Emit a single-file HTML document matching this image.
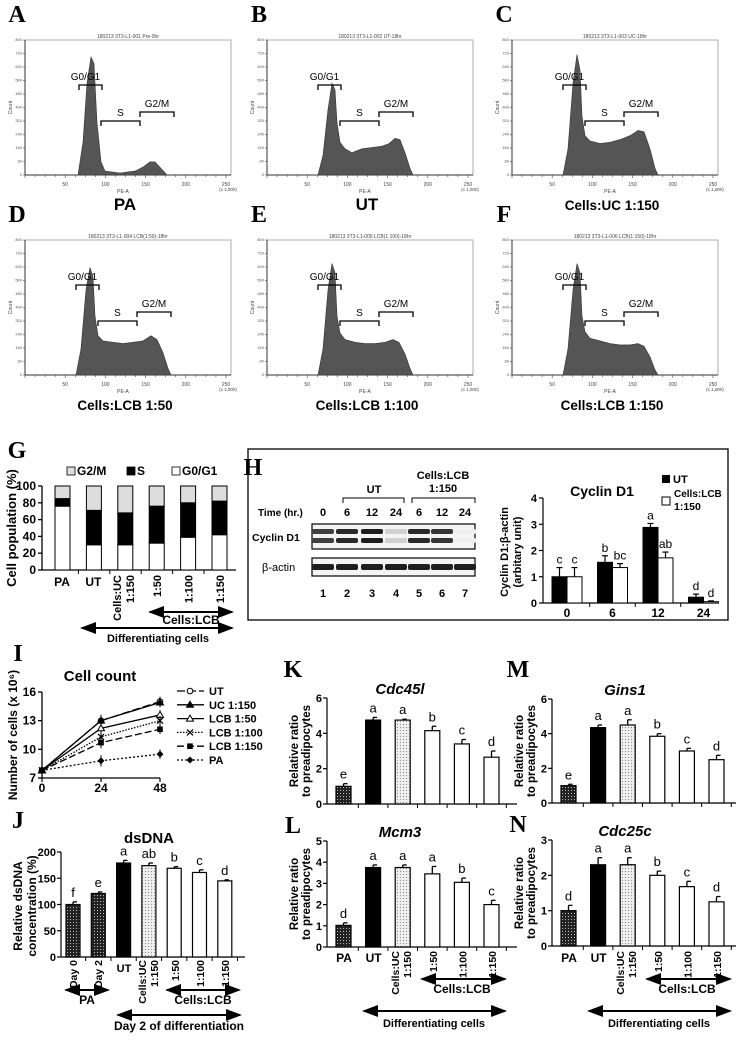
<!DOCTYPE html>
<html><head><meta charset="utf-8"><style>
body{margin:0;background:#fff;width:736px;height:1040px;overflow:hidden}
svg{display:block;font-family:"Liberation Sans",sans-serif}
</style></head><body>
<svg id="fig" width="736" height="1040" viewBox="0 0 736 1040">
<defs>
<pattern id="dk" width="3" height="3" patternUnits="userSpaceOnUse"><rect width="3" height="3" fill="#222"/><rect x="1" y="1" width="1" height="1" fill="#bbb"/></pattern>
<pattern id="lt" width="3" height="3" patternUnits="userSpaceOnUse"><rect width="3" height="3" fill="#eee"/><rect x="1" y="1" width="1" height="1" fill="#888"/></pattern>
<marker id="ah" markerWidth="8" markerHeight="6" refX="7" refY="3" orient="auto-start-reverse"><path d="M0,0L8,3L0,6z" fill="#000"/></marker>
</defs>
</svg>
<script>
// ---- Flow histogram data (x offset from axis, relative height) ----
const flowNames=['A','B','C','D','E','F'];
const flowLabels=[['PA'],['UT'],['Cells:UC 1:150'],['Cells:LCB 1:50'],['Cells:LCB 1:100'],['Cells:LCB 1:150']];
const flowTitles=['180213 3T3-L1-001 Pre-0hr','180213 3T3-L1-002 UT-18hr','180213 3T3-L1-003 UC-18hr','180213 3T3-L1-004 LCB(1:50)-18hr','180213 3T3-L1-005 LCB(1:100)-18hr','180213 3T3-L1-006 LCB(1:150)-18hr'];
const flowA=[[53,0],[58,0.25],[62,0.7],[66,0.9],[69,0.85],[72,0.4],[76,0.1],[80,0.03],[95,0.015],[110,0.03],[118,0.06],[125,0.1],[130,0.1],[136,0.05],[142,0]];
const flowB=[[51,0],[56,0.15],[61,0.5],[65,0.7],[68,0.65],[70,0.4],[73,0.25],[78,0.2],[85,0.17],[95,0.2],[105,0.21],[115,0.22],[122,0.24],[128,0.28],[133,0.27],[138,0.17],[143,0.05],[146,0]];
const flowC=[[51,0],[56,0.2],[61,0.7],[65,0.92],[68,0.8],[70,0.45],[73,0.3],[78,0.26],[88,0.24],[98,0.25],[108,0.27],[118,0.3],[126,0.34],[132,0.33],[138,0.2],[143,0.05],[146,0]];
const flowD=[[51,0],[56,0.2],[61,0.65],[65,0.82],[68,0.75],[70,0.45],[73,0.3],[78,0.26],[88,0.25],[98,0.24],[108,0.25],[118,0.26],[126,0.3],[132,0.27],[138,0.17],[143,0.05],[146,0]];
const flowE=[[51,0],[56,0.2],[61,0.65],[65,0.85],[68,0.78],[70,0.45],[73,0.32],[78,0.27],[88,0.25],[98,0.24],[108,0.24],[118,0.25],[126,0.27],[132,0.25],[138,0.16],[143,0.05],[146,0]];
const flowF=[[51,0],[56,0.2],[61,0.65],[65,0.85],[68,0.78],[70,0.45],[73,0.33],[78,0.28],[88,0.26],[98,0.24],[108,0.23],[118,0.23],[126,0.24],[132,0.22],[138,0.14],[143,0.04],[146,0]];
const flowData=[flowA,flowB,flowC,flowD,flowE,flowF];

// ---- G data ----
const gCats=['PA','UT','Cells:UC 1:150','1:50','1:100','1:150'];
const gG1=[76,30,30,32,39,42];
const gS=[9,41,38,44,41,40];
const gG2=[15,29,32,24,20,18];
// ---- H data ----
const hCats=['0','6','12','24'];
const hUT=[1.0,1.55,2.88,0.22];
const hUTerr=[0.35,0.25,0.15,0.12];
const hLCB=[1.0,1.35,1.72,0.05];
const hLCBerr=[0.35,0.15,0.22,0.03];
const hUTlet=['c','b','a','d'];
const hLCBlet=['c','bc','ab','d'];
const blotCyc=[0.85,0.95,1.0,0.2,0.95,0.9,0.07];
const blotAct=[1,1,1,1,1,1,1];
// ---- I data ----
const iTimes=[0,24,48];
const iUT=[7.8,13.0,15.0];
const iUC=[7.8,13.0,14.9];
const iL50=[7.8,12.2,13.6];
const iL100=[7.8,11.3,13.0];
const iL150=[7.8,10.7,12.1];
const iPA=[7.8,8.8,9.5];
const iErr=[0.2,0.6,0.5];
// ---- J data ----
const jCats=['Day 0','Day 2','UT','Cells:UC 1:150','1:50','1:100','1:150'];
const jVals=[100,121,179,174,169,161,145];
const jErrs=[5,3,5,5,3,5,2];
const jLet=['f','e','a','ab','b','c','d'];
// ---- K-N data ----
const geneCats=['PA','UT','Cells:UC 1:150','1:50','1:100','1:150'];
const kVals=[1.0,4.75,4.75,4.15,3.4,2.65];
const kErrs=[0.15,0.15,0.05,0.25,0.25,0.35];
const kLet=['e','a','a','b','c','d'];
const lVals=[1.02,3.75,3.75,3.45,3.05,2.0];
const lErrs=[0.12,0.12,0.12,0.35,0.2,0.2];
const lLet=['d','a','a','a','b','c'];
const mVals=[1.0,4.35,4.5,3.85,3.0,2.5];
const mErrs=[0.08,0.15,0.3,0.15,0.15,0.25];
const mLet=['e','a','a','b','c','d'];
const nVals=[1.0,2.3,2.3,2.0,1.68,1.25];
const nErrs=[0.15,0.2,0.2,0.12,0.15,0.15];
const nLet=['d','a','a','b','c','d'];

const S=document.getElementById('fig');
const NS='http://www.w3.org/2000/svg';
function mk(tag,at,txt,par){const e=document.createElementNS(NS,tag);for(const k in at)e.setAttribute(k,at[k]);if(txt!==undefined&&txt!==null)e.textContent=txt;(par||S).appendChild(e);return e;}
function T(x,y,s,size,opt){opt=opt||{};const a={x:x,y:y,'font-size':size,'text-anchor':opt.a||'middle'};if(opt.b!==false)a['font-weight']='bold';if(opt.i)a['font-style']='italic';if(opt.rot)a.transform='rotate(-90 '+x+' '+y+')';if(opt.fam)a['font-family']=opt.fam;if(opt.fill)a.fill=opt.fill;const e=mk('text',a,s);return e;}
function R(x,y,s,size){return T(x,y,s,size,{rot:true,a:'end'});}
function L(x1,y1,x2,y2,w,extra){const a={x1:x1,y1:y1,x2:x2,y2:y2,stroke:extra&&extra.c||'#000','stroke-width':w||1};if(extra&&extra.d)a['stroke-dasharray']=extra.d;return mk('line',a);}
function arrow(x1,x2,y,name){const e=mk('line',{x1:x1,y1:y,x2:x2,y2:y,stroke:'#000','stroke-width':2,'marker-start':'url(#ah)','marker-end':'url(#ah)'});

}
function panelLabel(ch,x,y){const e=T(x,y,ch,24,{fam:'"Liberation Serif",serif'});

}

// ---- Flow panels ----
const flowLeft=[25,267,512];
const flowTop=[40,240];
for(let p=0;p<6;p++){
  const ax=flowLeft[p%3], top=flowTop[Math.floor(p/3)], bot=top+135, w=206, hh=131;
  panelLabel(flowNames[p],ax-8,top-18);
  const g=mk('g',{});
  
  
  mk('rect',{x:ax,y:top,width:w,height:bot-top,fill:'none',stroke:'#999','stroke-width':0.8},null,g);
  mk('line',{x1:ax,y1:top,x2:ax,y2:bot,stroke:'#333','stroke-width':1},null,g);
  mk('line',{x1:ax,y1:bot,x2:ax+w,y2:bot,stroke:'#333','stroke-width':1},null,g);
  mk('text',{x:ax+w/2,y:top-2,'font-size':5,'text-anchor':'middle',fill:'#444'},flowTitles[p],g);
  for(let k=0;k<=20;k++){const tx=ax+k*w/20.5;mk('line',{x1:tx,y1:bot,x2:tx,y2:bot+(k%4===0?3:2),stroke:'#444','stroke-width':0.6},null,g);}
  for(let k=0;k<=10;k++){const ty=bot-k*(bot-top)/10;mk('line',{x1:ax-2,y1:ty,x2:ax,y2:ty,stroke:'#444','stroke-width':0.6},null,g);
    mk('text',{x:ax-3,y:ty+1,'font-size':4,'text-anchor':'end',fill:'#555'},String(k*80),g);}
  ['50','100','150','200','250'].forEach((s,i)=>{mk('text',{x:ax+(i+1)*40.2,y:bot+11,'font-size':5,'text-anchor':'middle',fill:'#444'},s,g);});
  mk('text',{x:ax+w-3,y:bot+16,'font-size':4.5,'text-anchor':'middle',fill:'#444'},'(x 1,000)',g);
  mk('text',{x:ax+w/2-5,y:bot+18,'font-size':5,'text-anchor':'middle',fill:'#444'},'PE-A',g);
  mk('text',{x:ax-13,y:top+(bot-top)/2,'font-size':5,'text-anchor':'middle',fill:'#444',transform:'rotate(-90 '+(ax-13)+' '+(top+(bot-top)/2)+')'},'Count',g);
  let d='M'+(ax+flowData[p][0][0])+','+bot;
  flowData[p].forEach(pt=>{d+=' L'+(ax+pt[0])+','+(bot-pt[1]*hh).toFixed(1);});
  d+=' Z';
  const hist=mk('path',{d:d,fill:'#555',stroke:'#333','stroke-width':0.6},null,g);
  
  
  const o=p===0?3:0;
  const br=[[51+o,74+o,bot-90,'G0/G1'],[73+o,112+o,bot-54,'S'],[112+o,146+o,bot-63,'G2/M']];
  br.forEach(b=>{mk('path',{d:'M'+(ax+b[0])+','+(b[2]+5)+' V'+b[2]+' H'+(ax+b[1])+' V'+(b[2]+5),fill:'none',stroke:'#000','stroke-width':1.3},null,g);
    mk('text',{x:ax+(b[0]+b[1])/2-(b[3]==='G0/G1'?5:0),y:b[2]-5,'font-size':10,'text-anchor':'middle'},b[3],g);});
  const lb=T(ax+w/2-3,bot+35,flowLabels[p][0],p===0||p===1?17:13.5);
  
  
}

// ---- Generic bar chart ----
function bars(cfg){
  const yS=v=>cfg.y0-(v/cfg.max)*(cfg.y0-cfg.yTop);
  const xS=i=>cfg.x0+i*cfg.sp;
  L(cfg.ax,cfg.yTop,cfg.ax,cfg.y0,1.2);
  L(cfg.ax,cfg.y0,cfg.xEnd,cfg.y0,1.2);
  cfg.ticks.forEach(t=>{L(cfg.ax-4,yS(t),cfg.ax,yS(t),1.2);T(cfg.ax-5,yS(t)+4,String(t),cfg.fs||11,{a:'end'});});
  for(let i=1;i<=cfg.vals.length;i++){const tx=xS(i)-(cfg.sp-cfg.w)/2;if(tx<cfg.xEnd)L(tx,cfg.y0,tx,cfg.y0+4,1);}
  cfg.vals.forEach((v,i)=>{
    const x=xS(i),y=yS(v);
    L(x+cfg.w/2,yS(v+cfg.errs[i]),x+cfg.w/2,y,1.3);
    L(x+cfg.w/2,yS(v+cfg.errs[i]),x+cfg.w/2+4,yS(v+cfg.errs[i]),1.3);
    const r=mk('rect',{x:x,y:y,width:cfg.w,height:cfg.y0-y,fill:cfg.fills[i],stroke:'#000','stroke-width':1.2});
    
    
    const t=T(x+cfg.w/2,yS(v+cfg.errs[i])-5,cfg.lets[i],13,{b:false});
    
    
  });
  return {xS:xS,yS:yS};
}
const geneFills=['url(#dk)','#000','url(#lt)','#fff','#fff','#fff'];

// ---- G stacked ----
panelLabel('G',17,458);
(function(){
  const ax=42,y0=570,yTop=486,x0=55,sp=31.4,w=15;
  const yS=v=>y0-v/100*(y0-yTop);
  L(ax,yTop,ax,y0,1.3);L(ax,y0,236,y0,1.3);
  [0,20,40,60,80,100].forEach(t=>{L(ax-4,yS(t),ax,yS(t),1.3);T(ax-6,yS(t)+4,String(t),12,{a:'end'});});
  for(let i=1;i<6;i++)L(x0+i*sp-8,y0,x0+i*sp-8,y0+4,1);
  gCats.forEach((c,i)=>{const x=x0+i*sp;
    let r=mk('rect',{x:x,y:yS(gG1[i]),width:w,height:y0-yS(gG1[i]),fill:'#fff',stroke:'#000'});
    
    
    r=mk('rect',{x:x,y:yS(gG1[i]+gS[i]),width:w,height:yS(gG1[i])-yS(gG1[i]+gS[i]),fill:'#000',stroke:'#000'});
    
    
    r=mk('rect',{x:x,y:yS(gG1[i]+gS[i]+gG2[i]),width:w,height:yS(gG1[i]+gS[i])-yS(gG1[i]+gS[i]+gG2[i]),fill:'#ddd',stroke:'#000'});
    
    
  });
  T(16,528,'Cell population (%)',13,{rot:true});
  T(x0+7,586,'PA',12);T(x0+sp+7,586,'UT',12);
  R(x0+2*sp+3,575,'Cells:UC',11);R(x0+2*sp+16,575,'1:150',11);
  R(x0+3*sp+12,575,'1:50',11);R(x0+4*sp+12,575,'1:100',11);R(x0+5*sp+12,575,'1:150',11);
  arrow(150,232,612,'g-lcb-arrow');T(191,624,'Cells:LCB',12);
  arrow(82,232,628,'g-diff-arrow');T(158,642,'Differentiating cells',11);
  const lg=[[67,'#ddd','G2/M'],[127,'#000','S'],[172,'#fff','G0/G1']];
  lg.forEach(l=>{const r=mk('rect',{x:l[0],y:467,width:8,height:8,fill:l[1],stroke:'#000','stroke-width':0.8});
    
    
    T(l[0]+10,475,l[2],12,{a:'start'});});
})();

// ---- H ----
(function(){
  const box=mk('rect',{x:248,y:449,width:480,height:171,fill:'none',stroke:'#000','stroke-width':1.3});
  
  
  panelLabel('H',253,475);
  const lanes=[323,347,372,396,419,442,465];
  T(258,516,'Time (hr.)',10,{a:'start'});
  ['0','6','12','24','6','12','24'].forEach((s,i)=>T(lanes[i],516,s,11));
  mk('path',{d:'M343,503 V498 H404 V503',fill:'none',stroke:'#000'});T(374,493,'UT',11);
  mk('path',{d:'M412,503 V498 H475 V503',fill:'none',stroke:'#000'});T(443,479,'Cells:LCB',11);T(443,492,'1:150',11);
  T(252,541,'Cyclin D1',10.5,{a:'start'});T(262,571,'β-actin',11,{a:'start',b:false});
  mk('rect',{x:312,y:524,width:163,height:25,fill:'#f4f4f4',stroke:'#000','stroke-width':1.2});
  mk('rect',{x:312,y:558,width:163,height:18,fill:'#f4f4f4',stroke:'#000','stroke-width':1.2});
  lanes.forEach((x,i)=>{
    const c=Math.round(255-blotCyc[i]*225);
    const col='rgb('+c+','+c+','+c+')';
    let b=mk('rect',{x:x-11,y:529,width:22,height:5,rx:2,fill:col});
    
    
    mk('rect',{x:x-11,y:538,width:22,height:5,rx:2,fill:col});
    const a=Math.round(255-blotAct[i]*225);
    b=mk('rect',{x:x-11,y:564,width:22,height:6,rx:2,fill:'rgb('+a+','+a+','+a+')'});
    
    
    T(x,597,String(i+1),11);
  });
  const ax=543,y0=603,yTop=498,max=4,cx0=567,csp=45.5,w=15;
  const yS=v=>y0-v/max*(y0-yTop);
  L(ax,yTop,ax,y0,1.2);L(ax,y0,718,y0,1.2);
  [0,1,2,3,4].forEach(t=>{L(ax-4,yS(t),ax,yS(t),1.2);T(ax-6,yS(t)+4,String(t),11,{a:'end'});});
  for(let i=1;i<4;i++)L(cx0+i*csp-csp/2,y0,cx0+i*csp-csp/2,y0+4,1);
  hCats.forEach((c,i)=>{const cx=cx0+i*csp;
    [[hUT,hUTerr,hUTlet,cx-w,'#000','ut'],[hLCB,hLCBerr,hLCBlet,cx,'#fff','lcb']].forEach(s=>{
      const v=s[0][i],e=s[1][i],x=s[3];
      L(x+w/2,yS(v+e),x+w/2,yS(v),1.2);L(x+w/2-3,yS(v+e),x+w/2+3,yS(v+e),1.2);
      const r=mk('rect',{x:x,y:yS(v),width:w,height:y0-yS(v),fill:s[4],stroke:'#000','stroke-width':1});
      
      
      T(x+w/2,yS(v+e)-4,s[2][i],12,{b:false});
    });
    T(cx,617,c,12);
  });
  T(602,496,'Cyclin D1',14);
  T(508,552,'Cyclin D1:β-actin',11,{rot:true});T(521,552,'(arbitary unit)',11,{rot:true});
  let r=mk('rect',{x:662,y:475,width:8,height:8,fill:'#000'});
  
  
  T(673,483,'UT',11,{a:'start'});
  r=mk('rect',{x:662,y:497,width:8,height:8,fill:'#fff',stroke:'#000'});
  
  
  T(674,497,'Cells:LCB',10,{a:'start'});T(674,510,'1:150',10.5,{a:'start'});
})();

// ---- I line chart ----
panelLabel('I',18,661);
(function(){
  const ax=42,y0=778,yTop=692,xS=t=>42+t/48*118,yS=v=>y0-(v-7)/9*(y0-yTop);
  L(ax,yTop,ax,y0,1.3);L(ax,y0,160,y0,1.3);
  [7,10,13,16].forEach(t=>{L(ax-4,yS(t),ax,yS(t),1.3);T(ax-6,yS(t)+4,String(t),12,{a:'end'});});
  iTimes.forEach(t=>{L(xS(t),y0,xS(t),y0+4,1.2);T(xS(t),792,String(t),12);});
  T(100,681,'Cell count',15);
  T(17,735,'Number of cells (x 10⁶)',12,{rot:true});
  const series=[[iUT,'UT','8,3','circ','#fff'],[iUC,'UC 1:150','','tri','#000'],[iL50,'LCB 1:50','','tri','#fff'],[iL100,'LCB 1:100','1.5,1.5','x','#000'],[iL150,'LCB 1:150','7,3','sq','#000'],[iPA,'PA','2,2','dia','#000']];
  function marker(x,y,t,f){
    if(t==='circ')return mk('circle',{cx:x,cy:y,r:2.8,fill:f,stroke:'#000','stroke-width':1});
    if(t==='tri')return mk('path',{d:'M'+x+','+(y-3.5)+' L'+(x+3.5)+','+(y+2.5)+' L'+(x-3.5)+','+(y+2.5)+'Z',fill:f,stroke:'#000','stroke-width':1});
    if(t==='x')return mk('path',{d:'M'+(x-3)+','+(y-3)+' L'+(x+3)+','+(y+3)+' M'+(x+3)+','+(y-3)+' L'+(x-3)+','+(y+3),stroke:'#000','stroke-width':1.2});
    if(t==='sq')return mk('rect',{x:x-2.8,y:y-2.8,width:5.6,height:5.6,fill:f});
    return mk('path',{d:'M'+x+','+(y-3.5)+' L'+(x+3.5)+','+y+' L'+x+','+(y+3.5)+' L'+(x-3.5)+','+y+'Z',fill:f});
  }
  series.forEach((s,k)=>{
    let d='';s[0].forEach((v,i)=>{d+=(i?'L':'M')+xS(iTimes[i])+','+yS(v);});
    const p=mk('path',{d:d,fill:'none',stroke:'#000','stroke-width':1.3,'stroke-dasharray':s[2]});
    
    
    s[0].forEach((v,i)=>{if(i>0)L(xS(iTimes[i]),yS(v+iErr[i]),xS(iTimes[i]),yS(v-iErr[i]),1);
      const m=marker(xS(iTimes[i]),yS(v),s[3],s[4]);
      
      });
    const ly=695+k*13.8;
    const ll=mk('line',{x1:177,y1:ly-4,x2:204,y2:ly-4,stroke:'#000','stroke-width':1.3,'stroke-dasharray':s[2]});
    
    
    marker(190,ly-4,s[3],s[4]);
    T(209,ly,s[1],11,{a:'start'});
  });
})();

// ---- J ----
panelLabel('J',18,828);
(function(){
  bars({name:'j',ax:61,y0:957,yTop:852,max:200,ticks:[0,50,100,150,200],x0:66,sp:25.3,w:14,xEnd:245,vals:jVals,errs:jErrs,lets:jLet,fills:['url(#dk)','url(#dk)','#000','url(#lt)','#fff','#fff','#fff']});
  T(149,843,'dsDNA',15);
  T(22,906,'Relative dsDNA',12,{rot:true});T(36,906,'concentration (%)',12,{rot:true});
  R(77,960,'Day 0',10.5);R(102,960,'Day 2',10.5);T(124,972,'UT',11);
  R(146,960,'Cells:UC',10.5);R(158,960,'1:150',10.5);
  R(179,960,'1:50',10.5);R(204,960,'1:100',10.5);R(229,960,'1:150',10.5);
  arrow(66,108,990,'j-pa-arrow');T(87,1004,'PA',12);
  arrow(167,239,990,'j-lcb-arrow');T(203,1004,'Cells:LCB',12);
  arrow(118,240,1015,'j-day2-arrow');T(179,1030,'Day 2 of differentiation',12);
})();

// ---- K L M N ----
function gene(name,ax,y0,yTop,max,ticks,vals,errs,lets,title){
  bars({name:name,ax:ax,y0:y0,yTop:yTop,max:max,ticks:ticks,x0:ax+9,sp:29.6,w:15,xEnd:ax+190,vals:vals,errs:errs,lets:lets,fills:geneFills});
  T(ax+73,yTop-4,title,15,{i:true});
  const cy=(y0+yTop)/2;
  T(ax-29,cy,'Relative ratio',11.5,{rot:true});T(ax-17,cy,'to preadipocytes',11.5,{rot:true});
}
panelLabel('K',293,677);
gene('k',327,804,698,6,[0,2,4,6],kVals,kErrs,kLet,'Cdc45l');
panelLabel('L',293,833);
gene('l',327,947,841,5,[0,1,2,3,4,5],lVals,lErrs,lLet,'Mcm3');
panelLabel('M',518,677);
gene('m',552,803,699,6,[0,2,4,6],mVals,mErrs,mLet,'Gins1');
panelLabel('N',518,832);
gene('n',552,946,840,3,[0,1,2,3],nVals,nErrs,nLet,'Cdc25c');
[327,552].forEach((ax,k)=>{
  const x0=ax+9,sp=29.6;
  T(x0+8,962,'PA',12);T(x0+sp+8,962,'UT',12);
  R(x0+2*sp+4,951,'Cells:UC',10.5);R(x0+2*sp+16,951,'1:150',10.5);
  R(x0+3*sp+12,951,'1:50',10.5);R(x0+4*sp+12,951,'1:100',10.5);R(x0+5*sp+12,951,'1:150',10.5);
  arrow(ax+95,ax+178,979,'lcb-arrow-'+k);T(ax+135,993,'Cells:LCB',12);
  arrow(ax+37,ax+178,1011,'diff-arrow-'+k);T(ax+107,1027,'Differentiating cells',11);
});
</script>
</body></html>
